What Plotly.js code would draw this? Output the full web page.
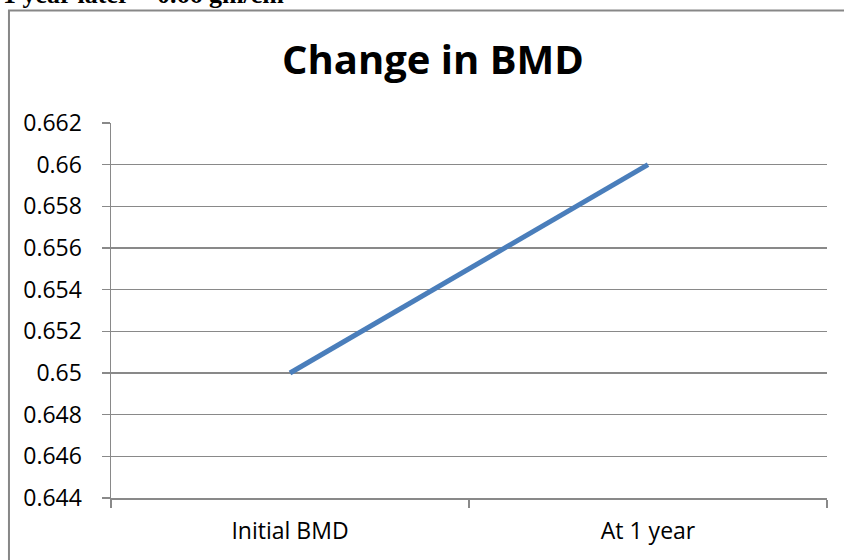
<!DOCTYPE html>
<html>
<head>
<meta charset="utf-8">
<script src="https://cdn.plot.ly/plotly-3.0.1.min.js"></script>
<style>
  html, body { margin: 0; padding: 0; background: #fff; }
  #chart { width: 844px; height: 560px; }
</style>
</head>
<body>
<div id="chart"></div>
<script>
// Bone mineral density, initial and after one year
const categories = ["Initial BMD", "At 1 year"];
const bmdValues = [0.65, 0.66];
const yTickValues = [0.644, 0.646, 0.648, 0.65, 0.652, 0.654, 0.656, 0.658, 0.66, 0.662];
const yTickLabels = ["0.644", "0.646", "0.648", "0.65", "0.652", "0.654", "0.656", "0.658", "0.66", "0.662"];

const gridGrey = "#898989";
const labelFont = { family: "'Open Sans', sans-serif", size: 23, color: "#000" };

const trace = {
  type: "scatter",
  mode: "lines",
  x: categories,
  y: bmdValues,
  line: { color: "#4a7ebb", width: 5 },
  hoverinfo: "x+y"
};

const layout = {
  width: 844,
  height: 560,
  margin: { l: 111, r: 17, t: 123, b: 62 },
  paper_bgcolor: "#fff",
  plot_bgcolor: "#fff",
  showlegend: false,
  title: {
    text: "<b>Change in BMD</b>",
    font: { family: "'Open Sans', sans-serif", size: 40, color: "#000" },
    x: 0.513, xanchor: "center",
    y: 0.892, yanchor: "middle"
  },
  xaxis: {
    type: "category",
    range: [-0.5, 1.5],
    showgrid: false,
    showline: true,
    linecolor: gridGrey,
    linewidth: 1.5,
    ticks: "outside",
    tickson: "boundaries",
    ticklen: 8,
    tickwidth: 1.5,
    tickcolor: gridGrey,
    tickfont: labelFont,
    ticklabelstandoff: 12,
    zeroline: false,
    fixedrange: true
  },
  yaxis: {
    range: [0.644, 0.662],
    tickvals: yTickValues,
    ticktext: yTickLabels,
    showgrid: true,
    gridcolor: gridGrey,
    gridwidth: 1.5,
    showline: true,
    linecolor: gridGrey,
    linewidth: 1.5,
    ticks: "outside",
    ticklen: 8,
    tickwidth: 1.5,
    tickcolor: gridGrey,
    tickfont: labelFont,
    ticklabelstandoff: 15,
    zeroline: false,
    fixedrange: true
  },
  shapes: [
    {
      // chart frame
      type: "rect",
      xref: "paper", yref: "paper",
      x0: -0.1425, x1: 1.04, y0: -0.2, y1: 1.3,
      line: { color: "#878787", width: 2 },
      fillcolor: "rgba(0,0,0,0)",
      layer: "below"
    }
  ],
  annotations: [
    {
      text: "<b>1 year later = 0.66 gm/cm</b>",
      xref: "paper", yref: "paper",
      x: -0.153, y: 1.298,
      xanchor: "left", yanchor: "bottom",
      showarrow: false,
      font: { family: "'Liberation Serif', 'DejaVu Serif', serif", size: 26, color: "#000" }
    }
  ]
};

Plotly.newPlot("chart", [trace], layout, { displayModeBar: false, staticPlot: true });
</script>
</body>
</html>
